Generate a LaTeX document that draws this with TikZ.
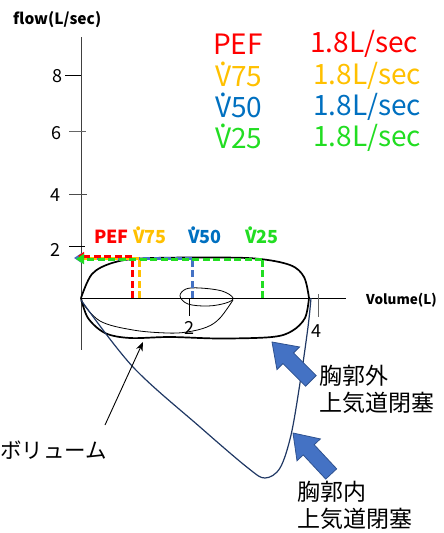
\documentclass[tikz,border=0pt]{standalone}
\usepackage{fontspec}
\setmainfont{Noto Sans CJK JP}
\usetikzlibrary{arrows.meta}
\definecolor{cred}{HTML}{FF0000}
\definecolor{corange}{HTML}{FFC000}
\definecolor{cblue}{HTML}{0070C0}
\definecolor{cgreen}{HTML}{22DD22}
\definecolor{dblue}{HTML}{4472C4}
\definecolor{navyline}{HTML}{203864}
\definecolor{aedge}{HTML}{2F528F}
\newcommand\Vdt{\leavevmode\hbox{\ooalign{V\cr\hidewidth\raisebox{0.74em}{.}\hidewidth\cr}}}
\newcommand\blockarr[3]{\begin{scope}[shift={#1},rotate=#2]
  \filldraw[fill=dblue,draw=aedge,line width=0.8] (0,0) -- (-23,16) -- (-23,7.5) -- (-#3,7.5) -- (-#3,-7.5) -- (-23,-7.5) -- (-23,-16) -- cycle;
\end{scope}}
\tikzset{
  lab/.style={inner sep=0pt, font=\fontsize{18}{18}\selectfont\bfseries},
  leg/.style={inner sep=0pt, anchor=west, font=\fontsize{28}{28}\selectfont},
  ax/.style={inner sep=0pt, font=\fontsize{18}{18}\selectfont},
  jp/.style={inner sep=0pt, anchor=west, align=left, font=\fontsize{23}{27}\selectfont},
  dsh/.style={line width=3pt, dash pattern=on 7pt off 3.5pt},
}
\begin{document}
\begin{tikzpicture}[x=1pt,y=-1pt]
\useasboundingbox (0,0) rectangle (444,533);
% axes
\draw[line width=0.9pt, black!75] (81,37) -- (81,350);
\draw[line width=0.9pt] (81,298) -- (346,298);
\draw[line width=0.9pt] (65,75) -- (81,75);
\draw[line width=0.9pt, black!60] (69,131) -- (86,131);
\draw[line width=0.9pt, black!70] (69,194) -- (87,194);
\draw[line width=0.9pt] (69,246) -- (85,246);
\draw[line width=0.9pt] (189,298) -- (189,316);
\draw[line width=0.9pt, black!60] (318,294) -- (318,317);
\node[ax] (t8) at (57,76) {8};
\node[ax] (t6) at (56,133) {6};
\node[ax] (t4) at (55,195) {4};
\node[ax] (t2) at (55,250) {2};
\node[ax] (x2) at (189,328) {2};
\node[ax] (x4) at (316,331) {4};
\node[inner sep=0pt, anchor=west, font=\fontsize{15.5}{15.5}\selectfont\bfseries] (fl) at (13,20) {flow(L/sec)};
\node[inner sep=0pt, anchor=west, font=\fontsize{13.5}{13.5}\selectfont\bfseries] (vl) at (366,300) {Volume(L)};
% legend
\node[leg, text=cred] (p1) at (213,44) {PEF};
\node[leg, text=cred] (p2) at (310,44) {1.8L/sec};
\node[leg, text=corange] (o1) at (215,76) {\Vdt 75};
\node[leg, text=corange] (o2) at (313,76) {1.8L/sec};
\node[leg, text=cblue] (b1) at (215,107) {\Vdt 50};
\node[leg, text=cblue] (b2) at (313,107) {1.8L/sec};
\node[leg, text=cgreen] (g1) at (215,138) {\Vdt 25};
\node[leg, text=cgreen] (g2) at (313,138) {1.8L/sec};
% labels above loop
\node[lab, anchor=west, text=cred] (lp) at (94,237) {PEF};
\node[lab, anchor=west, text=corange] (lo) at (133,237) {\Vdt 75};
\node[lab, anchor=west, text=cblue] (lb) at (188,237) {\Vdt 50};
\node[lab, anchor=west, text=cgreen] (lg) at (245,237) {\Vdt 25};
% main loop
\draw[line width=1.7pt] plot[smooth, tension=0.55] coordinates {(81,298) (92,274) (112,263) (140,258.5) (200,257.5) (255,258.5) (290,265) (304,277) (309,298)};
\draw[line width=1.7pt] plot[smooth, tension=0.55] coordinates {(309,298) (305,318) (292,331) (272,337) (220,338.5) (170,337) (130,338) (105,333) (88,318) (81,298)};
% inner thin curve and small loop
\draw[line width=0.8pt] plot[smooth, tension=0.6] coordinates {(81,301) (100,321) (133,330) (167,333) (187,332) (207,327) (220,318) (233,300)};
\draw[line width=0.8pt] plot[smooth cycle, tension=0.6] coordinates {(233,298) (222,291) (200,288) (186,289) (180,296) (188,304) (208,306) (226,303)};
% navy line
\draw[navyline, line width=1.2pt] plot[smooth, tension=0.55] coordinates {(81,300) (133,367) (200,427) (248,468) (265,478) (280,468) (291,435) (300,383) (308,327) (311,298)};
% dashed lines
\draw[dsh, cred] (132,298) -- (132,257);
\draw[dsh, corange] (139,298) -- (139,260);
\draw[dsh, dblue] (192,298) -- (192,256);
\draw[dsh, cgreen] (262,298) -- (262,259);
\draw[dsh, dblue, -{Triangle[length=8pt,width=10pt]}] (192,258) -- (74,258);
\draw[dsh, corange] (139,258) -- (82,258);
\draw[dsh, cred, -{Triangle[length=6pt,width=8pt]}] (132,256) -- (78,256);
\draw[dsh, cgreen, -{Triangle[length=8pt,width=10pt]}] (262,259) -- (76,259);
% block arrows
\blockarr{(272,342)}{135}{55}
\blockarr{(293,433)}{133}{56}
% Japanese labels
\node[inner sep=0pt, anchor=west, font=\fontsize{21.5}{21.5}\selectfont] (vol) at (0,450) {ボリューム};
\coordinate (vtip) at (143,342);
\draw[line width=0.9pt, -{Stealth[length=9pt,width=7pt]}] (105,425) -- (vtip);
\node[jp] (ext) at (319,389) {胸郭外\\上気道閉塞};
\node[jp] (int) at (297,505) {胸郭内\\上気道閉塞};
\end{tikzpicture}
\end{document}
